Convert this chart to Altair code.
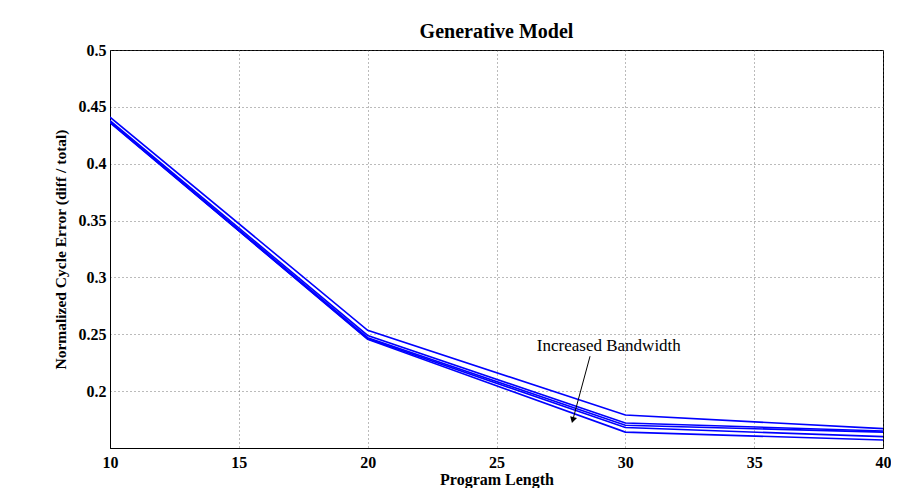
import altair as alt
import pandas as pd
import math

lengths = [10, 20, 30, 40]
series_names = ["s1", "s2", "s3", "s4", "s5"]
series_values = [
    [0.441, 0.2535, 0.179, 0.167],
    [0.438, 0.249, 0.172, 0.165],
    [0.437, 0.247, 0.170, 0.164],
    [0.436, 0.246, 0.168, 0.160],
    [0.4365, 0.2455, 0.164, 0.157],
]
x_ticks = [10, 15, 20, 25, 30, 35, 40]
y_ticks = [0.2, 0.25, 0.3, 0.35, 0.4, 0.45, 0.5]

annot_text = ["Increased Bandwidth"]
annot_text_pos = [29.36, 0.2395]
arrow_start = [28.63, 0.2307]
arrow_end = [27.97, 0.1754]

rows = []
for name, vals in zip(series_names, series_values):
    for x, v in zip(lengths, vals):
        rows.append({"series": name, "length": x, "error": v})
df = pd.DataFrame(rows)

FONT = "Liberation Serif"

xscale = alt.Scale(domain=[10, 40], nice=False, zero=False)
yscale = alt.Scale(domain=[0.15, 0.5], nice=False, zero=False)

xaxis = alt.Axis(values=x_ticks, title="Program Length", grid=True,
                 gridDash=[1, 3], gridColor="#555555", gridOpacity=0.8,
                 labelFont=FONT, labelFontWeight="bold", labelFontSize=16,
                 titleFont=FONT, titleFontWeight="bold", titleFontSize=16,
                 titlePadding=1, ticks=False, labelPadding=6, labelFlush=False,
                 domainColor="black", labelColor="black", titleColor="black")
yaxis = alt.Axis(values=y_ticks, title="Normalized Cycle Error (diff / total)",
                 grid=True, gridDash=[1, 3], gridColor="#555555", gridOpacity=0.8,
                 labelFont=FONT, labelFontWeight="bold", labelFontSize=16,
                 titleFont=FONT, titleFontWeight="bold", titleFontSize=15.5,
                 titlePadding=10, ticks=False, labelPadding=4, format="~g",
                 labelFlush=False,
                 domainColor="black", labelColor="black", titleColor="black")

lines = alt.Chart(df).mark_line(strokeWidth=1.6, clip=True).encode(
    x=alt.X("length:Q", scale=xscale, axis=xaxis),
    y=alt.Y("error:Q", scale=yscale, axis=yaxis),
    detail="series:N",
    color=alt.value("#0000ff"),
)

arrow_df = pd.DataFrame({
    "x": [arrow_start[0]], "y": [arrow_start[1]],
    "x2": [arrow_end[0]], "y2": [arrow_end[1]],
})
arrow = alt.Chart(arrow_df).mark_rule(color="black", strokeWidth=1).encode(
    x=alt.X("x:Q", scale=xscale), y=alt.Y("y:Q", scale=yscale),
    x2="x2:Q", y2="y2:Q",
)

px_per_x = 773 / 30
px_per_y = 398 / 0.35
dx = (arrow_end[0] - arrow_start[0]) * px_per_x
dy = -(arrow_end[1] - arrow_start[1]) * px_per_y
ang = (math.degrees(math.atan2(dx, -dy)) + 360) % 360

head_df = pd.DataFrame({"x": [arrow_end[0]], "y": [arrow_end[1]]})
head = alt.Chart(head_df).mark_point(shape="triangle", filled=True, color="black",
                                      size=50, angle=ang, opacity=1).encode(
    x=alt.X("x:Q", scale=xscale), y=alt.Y("y:Q", scale=yscale),
)

text_df = pd.DataFrame({"x": [annot_text_pos[0]], "y": [annot_text_pos[1]], "t": annot_text})
label = alt.Chart(text_df).mark_text(font=FONT, fontSize=17, color="black",
                                     align="center", baseline="middle").encode(
    x=alt.X("x:Q", scale=xscale), y=alt.Y("y:Q", scale=yscale), text="t:N",
)

chart = alt.layer(lines, arrow, head, label).properties(
    width=773, height=398,
    title=alt.Title("Generative Model", font=FONT, fontSize=20, fontWeight="bold",
                    color="black", offset=0),
    autosize=alt.AutoSizeParams(type="none"),
    padding={"left": 102, "top": 42, "right": 8, "bottom": 40},
).configure_view(stroke="black", strokeWidth=1)

chart.save("out.html", embed_options={"renderer": "svg", "actions": False})
